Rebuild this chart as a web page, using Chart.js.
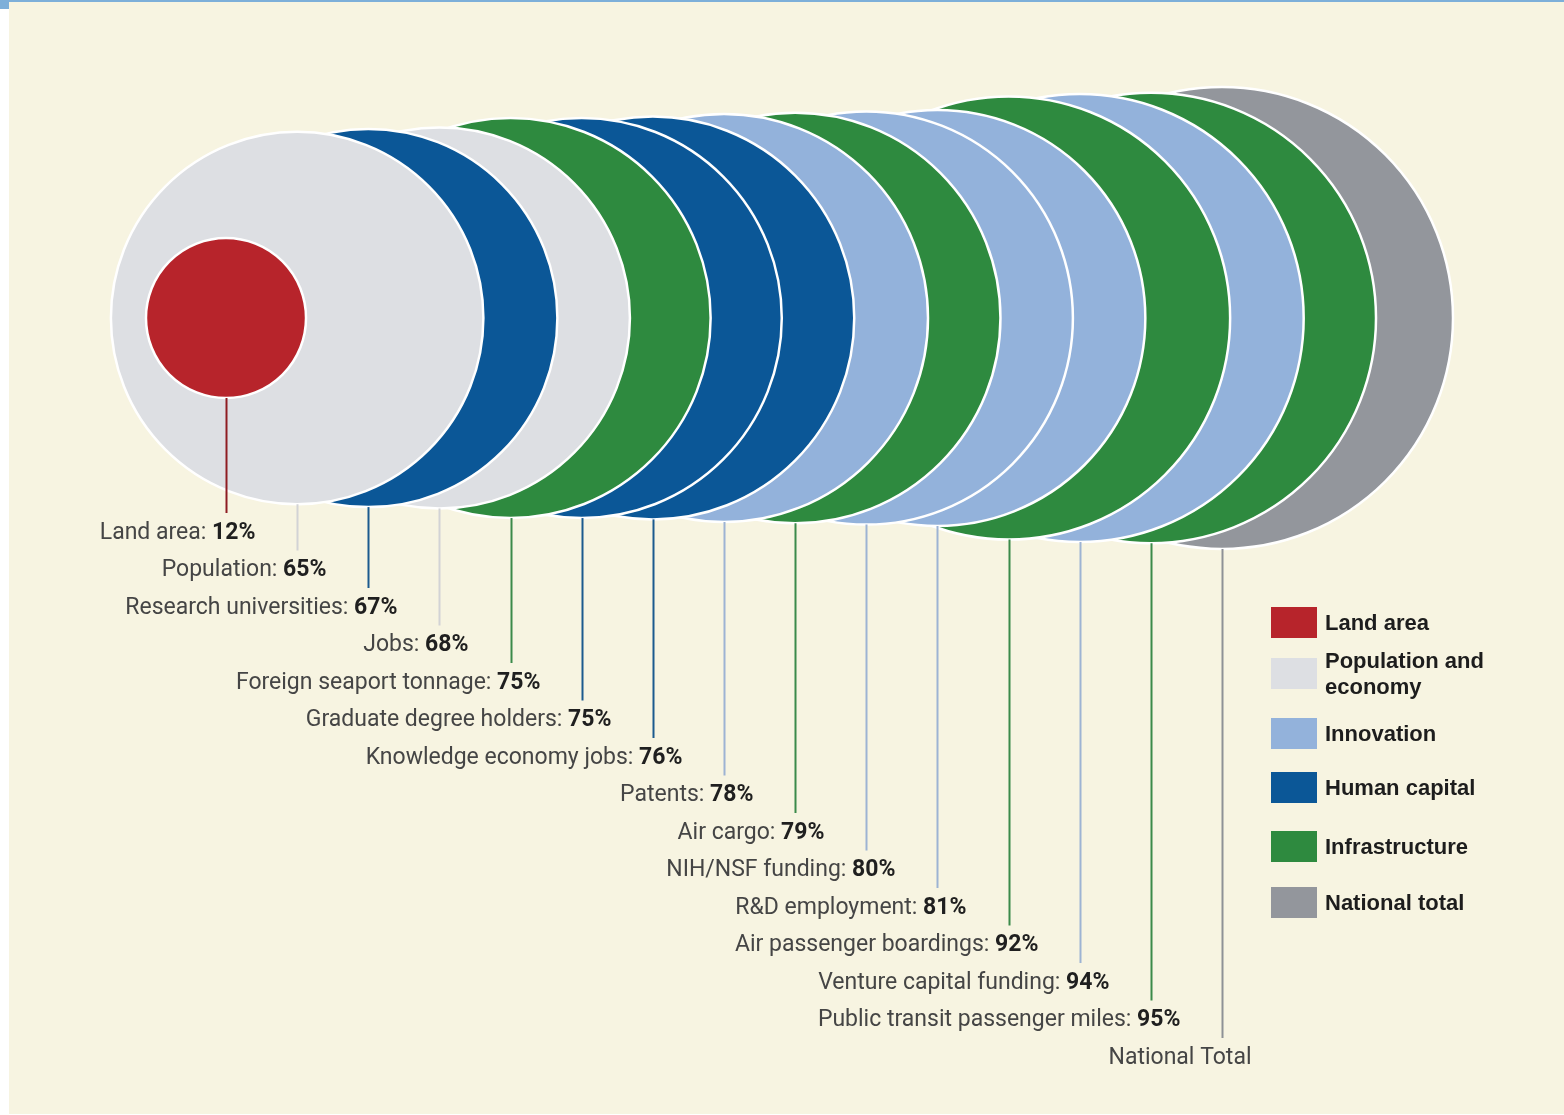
<!DOCTYPE html>
<html>
<head>
<meta charset="utf-8">
<script src="https://cdn.jsdelivr.net/npm/chart.js@4.4.1/dist/chart.umd.min.js"></script>
<style>
html,body{margin:0;padding:0;background:#fff;width:1564px;height:1115px;overflow:hidden;}
#bg{position:absolute;left:9px;top:2px;width:1555px;height:1112px;background:#F7F4E1;}
#topbar{position:absolute;left:0;top:0;width:1564px;height:2px;background:#7DAFD9;}
#corner{position:absolute;left:0;top:0;width:9px;height:9px;background:#7DAFD9;}
#wrap{position:absolute;left:0;top:0;width:1564px;height:1115px;}
#legend{position:absolute;left:1271px;top:0;font-family:'Liberation Sans',Arial,sans-serif;font-weight:bold;font-size:22px;color:#1d1d1d;}
.item{position:absolute;left:0;height:31px;display:flex;align-items:center;white-space:nowrap;}
.sw{width:46px;height:31px;flex:none;}
.lt{margin-left:8px;line-height:26px;}
</style>
</head>
<body>
<div id="bg"></div>
<div id="topbar"></div>
<div id="corner"></div>
<div id="wrap"><canvas id="c" width="1564" height="1115"></canvas></div>
<div id="legend"></div>
<script>
// ---- data ----
const categories = ['Land area','Population','Research universities','Jobs','Foreign seaport tonnage','Graduate degree holders','Knowledge economy jobs','Patents','Air cargo','NIH/NSF funding','R&D employment','Air passenger boardings','Venture capital funding','Public transit passenger miles','National Total'];
const values = [12,65,67,68,75,75,76,78,79,80,81,92,94,95,100];
const valueLabels = ['12%','65%','67%','68%','75%','75%','76%','78%','79%','80%','81%','92%','94%','95%',''];
const groups = ['Land area','Population and economy','Human capital','Population and economy','Infrastructure','Human capital','Human capital','Innovation','Infrastructure','Innovation','Innovation','Infrastructure','Innovation','Infrastructure','National total'];
const legendNames = ['Land area','Population and economy','Innovation','Human capital','Infrastructure','National total'];

// ---- styles ----
const fillColors = {
  'Land area':'#B7242B',
  'Population and economy':'#DDDFE3',
  'Innovation':'#93B2DB',
  'Human capital':'#0B5797',
  'Infrastructure':'#2E8A3F',
  'National total':'#93969C'
};
const lineColors = {
  'Land area':'#8E1C22',
  'Population and economy':'#D2D3D5',
  'Innovation':'#9DB3D3',
  'Human capital':'#1B5A8E',
  'Infrastructure':'#3B8A4A',
  'National total':'#8E9196'
};

// legend (HTML)
const legendTops = [607,658,718,772,831,887];
const legendLabelsHtml = {'Population and economy':'Population and<br>economy'};
const legEl = document.getElementById('legend');
legendNames.forEach((n,i)=>{
  const d = document.createElement('div');
  d.className='item'; d.style.top = legendTops[i]+'px';
  d.innerHTML = '<div class="sw" style="background:'+fillColors[n]+'"></div><div class="lt">'+(legendLabelsHtml[n]||n)+'</div>';
  legEl.appendChild(d);
});

const points = categories.map((c,i)=>({x:c, y:0, v:values[i], g:groups[i]})).reverse();

function radiusOf(chart, v){
  const y = chart.scales.y;
  return Math.abs(y.getPixelForValue(Math.sqrt(v/100)) - y.getPixelForValue(0));
}

const leaderPlugin = {
  id:'leaders',
  afterDatasetsDraw(chart){
    const {ctx, scales:{x,y}} = chart;
    ctx.save();
    categories.forEach((name,i)=>{
      const px = Math.round(x.getPixelForValue(i)) + 0.5;
      const top = y.getPixelForValue(-Math.sqrt(values[i]/100));
      const rowY = 533 + i*37.5;
      ctx.strokeStyle = lineColors[groups[i]];
      ctx.lineWidth = 2;
      ctx.beginPath(); ctx.moveTo(px, top); ctx.lineTo(px, rowY-20); ctx.stroke();
      const xr = px + 29;
      ctx.textBaseline='middle'; ctx.textAlign='right';
      let w = 0;
      if (valueLabels[i]) {
        ctx.font = 'bold 23px Roboto, "Liberation Sans", sans-serif';
        ctx.fillStyle = '#1f1f1f';
        ctx.fillText(valueLabels[i], xr, rowY);
        w = ctx.measureText(valueLabels[i]).width;
      }
      ctx.font = '23px Roboto, "Liberation Sans", sans-serif';
      ctx.fillStyle = '#454545';
      ctx.fillText(valueLabels[i] ? name + ': ' : name, xr - w, rowY);
    });
    ctx.restore();
  }
};

new Chart(document.getElementById('c'), {
  type:'scatter',
  data:{
    labels: categories,
    datasets:[{
      data: points,
      clip:false,
      pointStyle:'circle',
      pointRadius: c => c.raw ? radiusOf(c.chart, c.raw.v) : 0,
      pointBackgroundColor: c => c.raw ? fillColors[c.raw.g] : '#ccc',
      pointBorderColor:'#ffffff',
      pointBorderWidth:2.5
    }]
  },
  options:{
    responsive:false,
    animation:false,
    events:[],
    layout:{padding:{left:226,right:342,top:87,bottom:566}},
    plugins:{legend:{display:false},tooltip:{enabled:false},title:{display:false}},
    scales:{
      x:{type:'category',display:false,offset:false},
      y:{type:'linear',display:false,min:-1,max:1}
    }
  },
  plugins:[leaderPlugin]
});
</script>
</body>
</html>
